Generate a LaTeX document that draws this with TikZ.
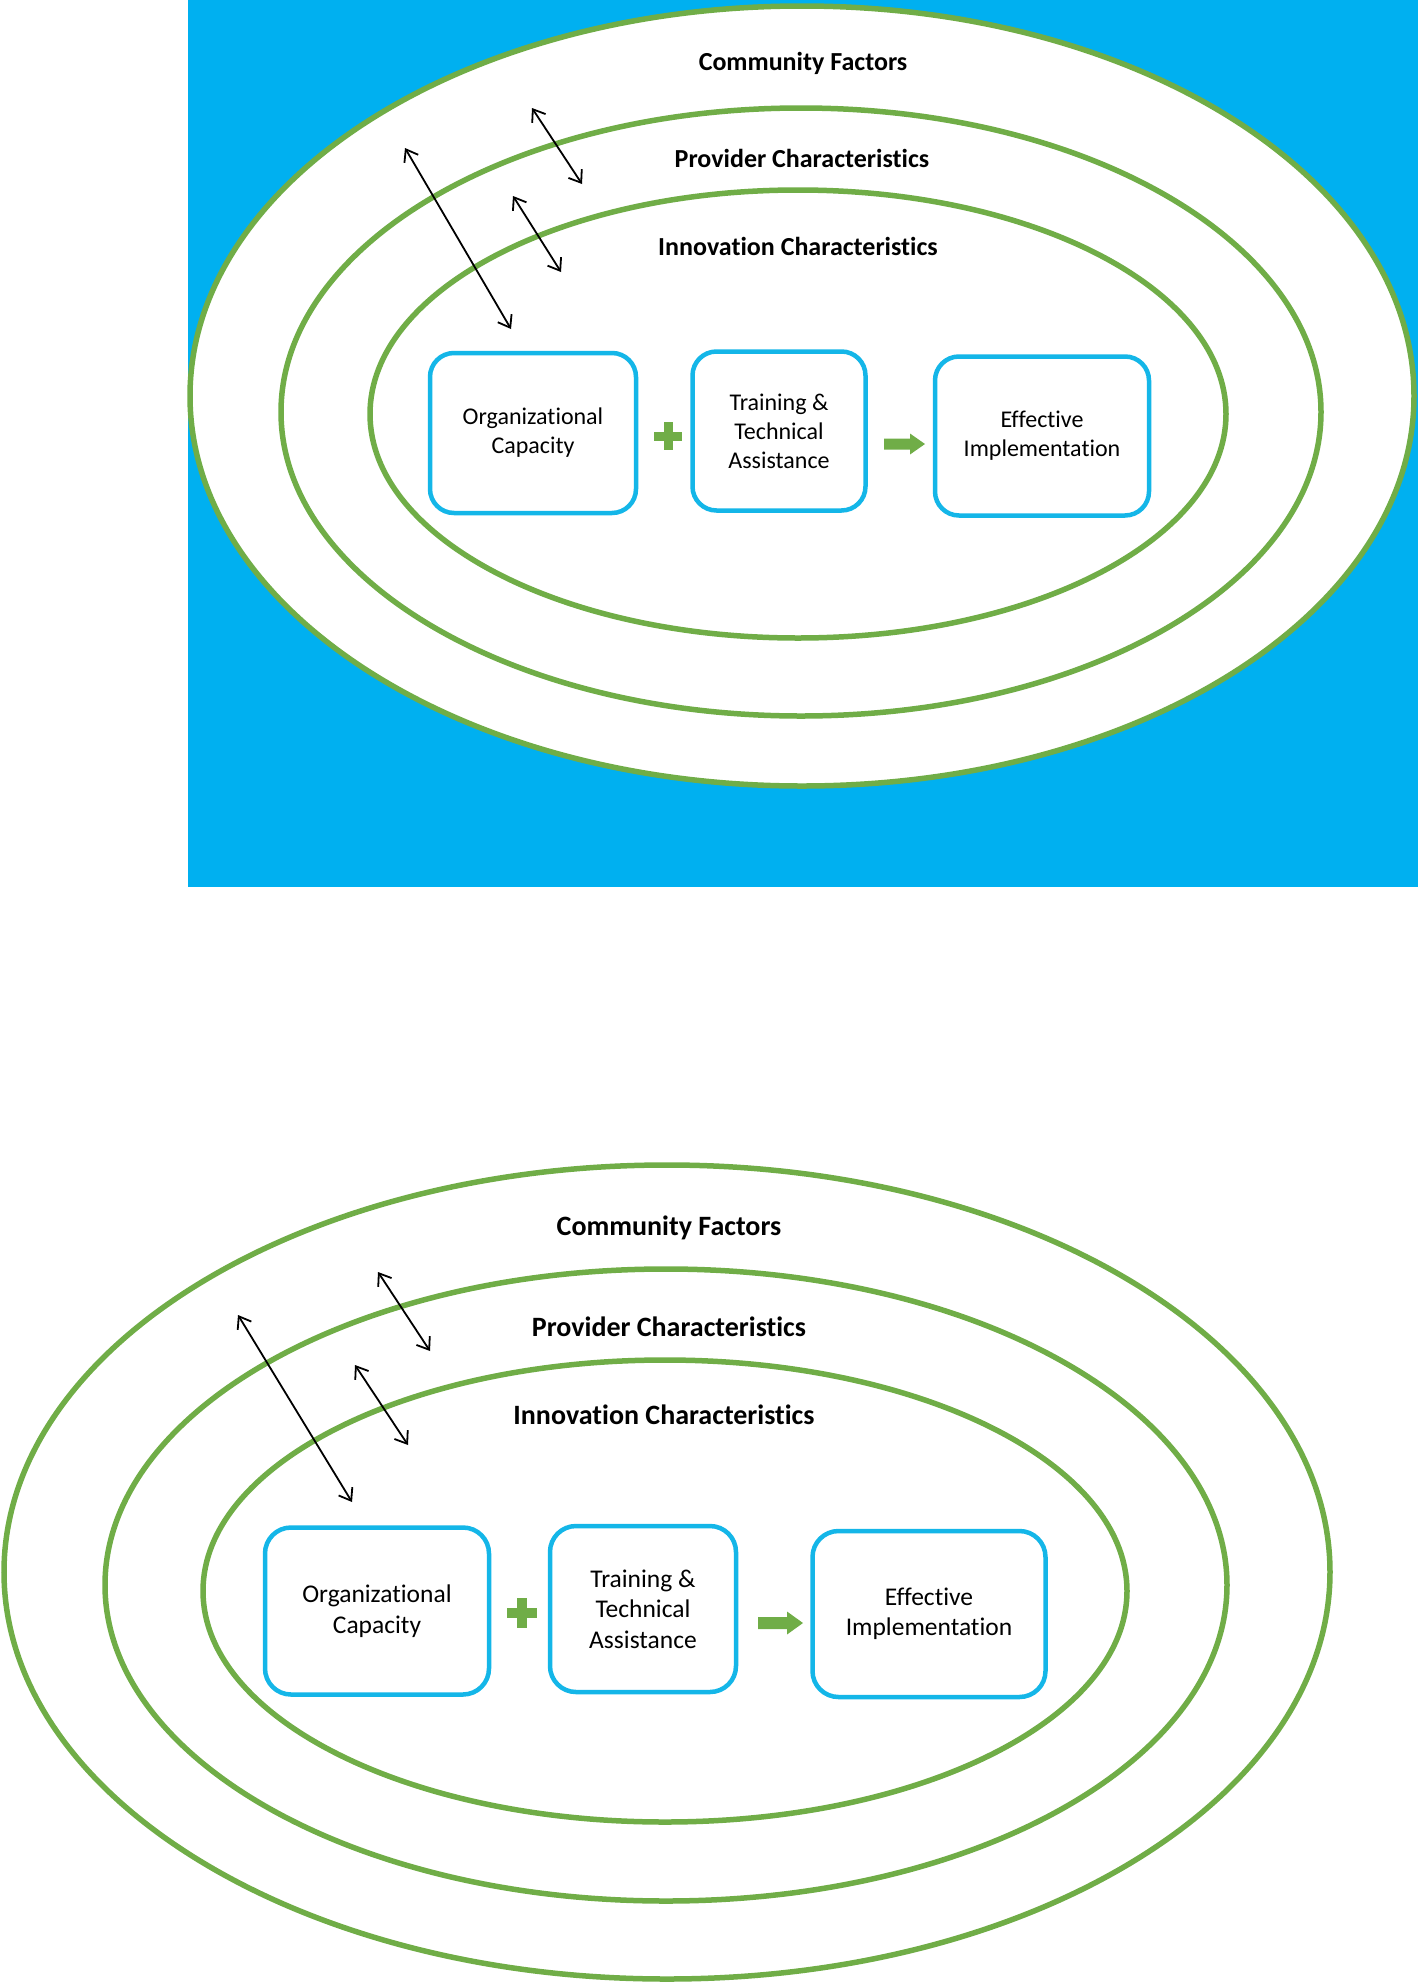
\documentclass[tikz,border=0pt]{standalone}
\usepackage{fontspec}
\setmainfont{Carlito}[Ligatures=NoCommon]
\usetikzlibrary{shapes.geometric,arrows.meta}
\definecolor{bgblue}{RGB}{0,176,240}
\definecolor{grn}{RGB}{112,173,71}
\definecolor{boxblue}{RGB}{20,182,232}
\tikzset{
  ring/.style={ellipse, draw=grn, line width=5.5pt, inner sep=0pt},
  lbltop/.style={font=\bfseries\fontsize{26}{31}\selectfont},
  lblbot/.style={font=\bfseries\fontsize{28}{33}\selectfont},
  boxtop/.style={draw=boxblue, line width=4.5pt, rounded corners=24pt, fill=white, align=center, inner sep=0pt, font=\fontsize{24}{29}\selectfont},
  boxbot/.style={draw=boxblue, line width=4.5pt, rounded corners=26pt, fill=white, align=center, inner sep=0pt, font=\fontsize{25.5}{30.5}\selectfont},
  dbl/.style={{Straight Barb[length=11pt,width=16pt]}-{Straight Barb[length=11pt,width=16pt]}, line width=1.8pt, black},
  gfill/.style={fill=grn, draw=none}
}
\begin{document}
\begin{tikzpicture}[x=1pt,y=-1pt]
\useasboundingbox (0,0) rectangle (1418,1987);
% ---------------- top panel ----------------
\fill[bgblue] (187.5,0) rectangle (1418,887);
\node[ring, fill=white, minimum width=1224pt, minimum height=780pt] (outA) at (802,396) {};
\node[ring, minimum width=1040pt, minimum height=608pt] (midA) at (801,412) {};
\node[ring, minimum width=856pt, minimum height=448pt] (inA) at (798,414) {};
\node[lbltop] (cfA) at (803,63) {Community Factors};
\node[lbltop] (pcA) at (802,158) {Provider Characteristics};
\node[lbltop] (icA) at (798,246) {Innovation Characteristics};
\node[boxtop, minimum width=206pt, minimum height=160pt] (ocA) at (533,433) {Organizational\\Capacity};
\node[boxtop, minimum width=173pt, minimum height=159pt] (ttA) at (779,431) {Training \&\\Technical\\Assistance};
\node[boxtop, minimum width=214pt, minimum height=159pt] (eiA) at (1042,436) {Effective\\Implementation};
% plus
\coordinate (plA) at (668,436);
\fill[gfill] ([xshift=-14pt,yshift=-4.5pt]plA) rectangle ([xshift=14pt,yshift=4.5pt]plA);
\fill[gfill] ([xshift=-4.5pt,yshift=-14pt]plA) rectangle ([xshift=4.5pt,yshift=14pt]plA);
% green arrow
\coordinate (arA) at (884,433);
\fill[gfill] ([yshift=-5.5pt]arA) -- ++(26,0) -- ++(0,-5) -- ++(15,10.5) -- ++(-15,10.5) -- ++(0,-5) -- ++(-26,0) -- cycle;
% double arrows
\coordinate (a1s) at (405,148); \coordinate (a1e) at (511,329);
\coordinate (a2s) at (532,108); \coordinate (a2e) at (582,184);
\coordinate (a3s) at (513,196); \coordinate (a3e) at (561,272);
\draw[dbl] (a1s) -- (a1e);
\draw[dbl] (a2s) -- (a2e);
\draw[dbl] (a3s) -- (a3e);
% ---------------- bottom panel ----------------
\node[ring, minimum width=1326pt, minimum height=814pt] (outB) at (667,1572) {};
\node[ring, minimum width=1122pt, minimum height=632pt] (midB) at (666,1585) {};
\node[ring, minimum width=924pt, minimum height=462pt] (inB) at (665,1591) {};
\node[lblbot] (cfB) at (669,1228) {Community Factors};
\node[lblbot] (pcB) at (669,1327) {Provider Characteristics};
\node[lblbot] (icB) at (664,1415) {Innovation Characteristics};
\node[boxbot, minimum width=224pt, minimum height=167pt] (ocB) at (377,1611) {Organizational\\Capacity};
\node[boxbot, minimum width=186pt, minimum height=166pt] (ttB) at (643,1609) {Training \&\\Technical\\Assistance};
\node[boxbot, minimum width=233pt, minimum height=166pt] (eiB) at (929,1614) {Effective\\Implementation};
\coordinate (plB) at (522,1613);
\fill[gfill] ([xshift=-15pt,yshift=-5pt]plB) rectangle ([xshift=15pt,yshift=5pt]plB);
\fill[gfill] ([xshift=-5pt,yshift=-15pt]plB) rectangle ([xshift=5pt,yshift=15pt]plB);
\coordinate (arB) at (758,1611);
\fill[gfill] ([yshift=-6pt]arB) -- ++(29,0) -- ++(0,-5.5) -- ++(16,11.5) -- ++(-16,11.5) -- ++(0,-5.5) -- ++(-29,0) -- cycle;
\coordinate (b1s) at (238,1315); \coordinate (b1e) at (352,1502);
\coordinate (b2s) at (378,1272); \coordinate (b2e) at (430,1351);
\coordinate (b3s) at (355,1365); \coordinate (b3e) at (408,1445);
\draw[dbl] (b1s) -- (b1e);
\draw[dbl] (b2s) -- (b2e);
\draw[dbl] (b3s) -- (b3e);
\end{tikzpicture}
\end{document}
